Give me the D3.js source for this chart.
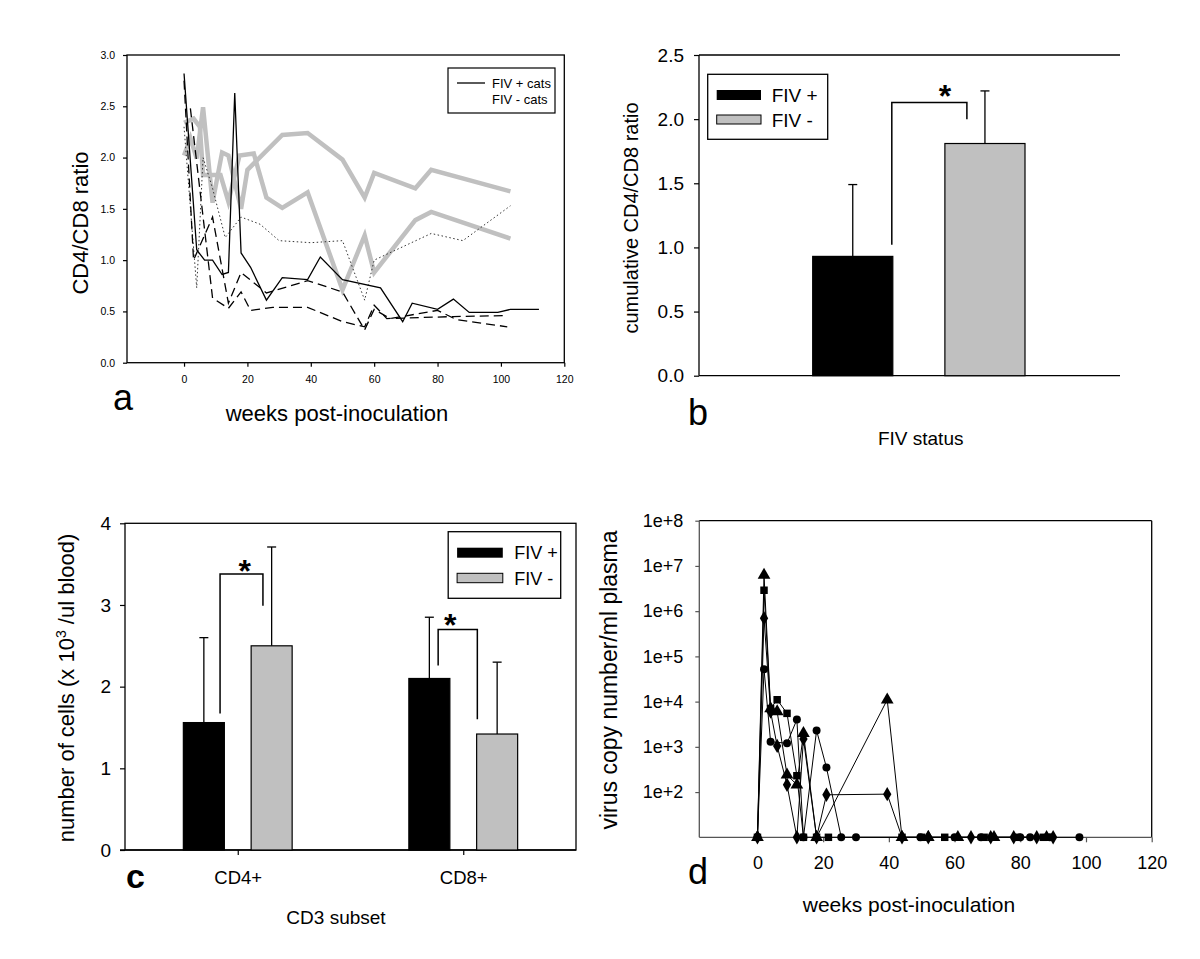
<!DOCTYPE html>
<html>
<head>
<meta charset="utf-8">
<script src="https://cdn.jsdelivr.net/npm/d3@7"></script>
<style>
body { margin: 0; background: #fff; }
svg { display: block; }
</style>
</head>
<body>
<script>
// ---- panel a: CD4/CD8 ratio over time, one line per cat ----
var weekTicks = [0, 20, 40, 60, 80, 100, 120];
var ratioTicks = [0, 0.5, 1, 1.5, 2, 2.5, 3];
var fivPosSolid = [[0,2.82],[4,1.10],[6.5,1.00],[9,1.00],[12,0.86],[14,0.88],[16,2.63],[18,1.07],[21,0.93],[26,0.61],[31,0.83],[39,0.81],[43,1.03],[50,0.81],[62,0.73],[69,0.40],[72,0.58],[80,0.52],[85,0.62],[90,0.49],[99,0.49],[103,0.52],[112,0.52]];
var fivPosDashA = [[2,2.48],[9,0.63],[14,0.53],[18,0.69],[21,0.51],[28,0.54],[39,0.54],[50,0.40],[57,0.35],[60,0.56],[64,0.43],[85,0.45],[102,0.46]];
var fivPosDashB = [[0,2.75],[3,1.00],[9,1.42],[14,0.58],[18,0.88],[26,0.68],[39,0.80],[50,0.69],[57,0.32],[60,0.52],[65,0.43],[80,0.51],[86,0.42],[102,0.35]];
var fivNegDotted = [[0,2.30],[4,0.73],[6,2.00],[9,1.70],[13,1.22],[18,1.42],[24,1.35],[30,1.19],[40,1.17],[50,1.19],[57,0.61],[60,1.00],[78,1.26],[88,1.19],[103,1.53]];
var fivNegGreyA = [[0,2.02],[2,2.19],[4,1.99],[6,2.49],[9,1.56],[12,2.05],[14,2.02],[18,1.50],[20,1.88],[31,2.22],[39,2.24],[50,1.98],[57,1.61],[60,1.85],[73,1.70],[78,1.88],[103,1.67]];
var fivNegGreyB = [[0,2.34],[3,2.38],[5,2.30],[6,1.83],[9,1.83],[11.5,1.83],[14,1.57],[17.5,2.02],[22,2.04],[26,1.61],[31,1.51],[39,1.66],[50,0.71],[57,1.24],[60,0.88],[73,1.39],[78,1.47],[103,1.21]];

// ---- panel b: cumulative ratio ----
var statusGroups = ["FIV +", "FIV -"];
var cumRatioMean = [0.93, 1.81];
var cumRatioSd = [0.56, 0.41];
var cumRatioTicks = [0, 0.5, 1, 1.5, 2, 2.5];

// ---- panel c: cell counts ----
var cd3Subsets = ["CD4+", "CD8+"];
var cellsFivPos = [1.56, 2.10];
var cellsFivPosSd = [1.04, 0.75];
var cellsFivNeg = [2.50, 1.42];
var cellsFivNegSd = [1.21, 0.88];
var cellTicks = [0, 1, 2, 3, 4];

// ---- panel d: viral load (10 = below detection, drawn on the axis) ----
var copyTicks = [1e2, 1e3, 1e4, 1e5, 1e6, 1e7, 1e8];
var loadTriangle = [[0,10],[2,6.3e6],[4,7e3],[6,6e3],[9,240],[12,145],[14,2000],[18,10],[39.5,1.1e4],[44,10],[52,10],[61,10],[72,10],[88,10]];
var loadSquare = [[0,10],[2,2.9e6],[4,7e3],[6,1.1e4],[9,5.5e3],[12,230],[14,10],[18,10],[21.6,10],[44,10],[50,10],[57,10],[69,10],[79,10],[87,10]];
var loadDiamond = [[0,10],[2,7e5],[4,6e3],[6,1050],[9,145],[12,10],[14,1500],[18,10],[21,87],[39.5,90],[44,10],[52,10],[65,10],[71,10],[78,10],[85,10],[90,10]];
var loadCircle = [[0,10],[2,5.2e4],[4,1300],[9,1200],[12,4000],[14,10],[18,2300],[21,350],[25.5,10],[30,10],[49.6,10],[60,10],[68,10],[80,10],[83,10],[89,10],[98,10]];

var GREY = "#c0c0c0";

var svg = d3.select("body").append("svg")
    .attr("width", 1200)
    .attr("height", 959)
    .attr("font-family", "'Liberation Sans', Arial, sans-serif");

function styleAxis(g, size, color){
    g.attr("font-family", null);
    g.select(".domain").remove();
    g.selectAll(".tick line").attr("stroke", color || "#000").attr("stroke-width", 1.2);
    g.selectAll("text").attr("font-size", size).attr("fill", "#000");
}

function seg(x1, y1, x2, y2, w, c){
    return svg.append("line")
        .attr("x1", x1).attr("y1", y1).attr("x2", x2).attr("y2", y2)
        .attr("stroke", c || "#000").attr("stroke-width", w || 1.3);
}

function label(x, y, txt, size, anchor){
    return svg.append("text")
        .attr("x", x).attr("y", y)
        .attr("font-size", size)
        .attr("text-anchor", anchor || "middle")
        .text(txt);
}

function vLabel(x, y, txt, size){
    return svg.append("text")
        .attr("transform", "translate(" + x + "," + y + ") rotate(-90)")
        .attr("font-size", size)
        .attr("text-anchor", "middle")
        .text(txt);
}

function bracket(xl, yl, xr, yr, ytop){
    svg.append("path")
        .attr("d", "M" + xl + "," + yl + "V" + ytop + "H" + xr + "V" + yr)
        .attr("fill", "none").attr("stroke", "#000").attr("stroke-width", 1.5);
}

function star(x, y){
    label(x, y, "*", 32).attr("font-weight", "bold");
}

// ================= panel a =================
var ax = d3.scaleLinear().domain([-18, 120]).range([127, 564.3]);
var ay = d3.scaleLinear().domain([0, 3]).range([362.7, 55]);

svg.append("rect")
    .attr("x", ax(-18)).attr("y", ay(3))
    .attr("width", ax(120) - ax(-18)).attr("height", ay(0) - ay(3))
    .attr("fill", "none").attr("stroke", "#000").attr("stroke-width", 1.3);

svg.append("g").attr("transform", "translate(0," + ay(0) + ")")
    .call(d3.axisBottom(ax).tickValues(weekTicks).tickSize(4).tickPadding(9))
    .call(styleAxis, 10.5);
svg.append("g").attr("transform", "translate(" + ax(-18) + ",0)")
    .call(d3.axisLeft(ay).tickValues(ratioTicks).tickFormat(d3.format(".1f")).tickSize(4).tickPadding(8))
    .call(styleAxis, 10.5);

var aLine = d3.line().x(function(d){ return ax(d[0]); }).y(function(d){ return ay(d[1]); });
var aSeries = [
    {data: fivNegGreyA, stroke: GREY, width: 4.5, dash: null},
    {data: fivNegGreyB, stroke: GREY, width: 4.5, dash: null},
    {data: fivNegDotted, stroke: "#333", width: 1, dash: "1.5,2.5"},
    {data: fivPosDashA, stroke: "#000", width: 1.3, dash: "9,5"},
    {data: fivPosDashB, stroke: "#000", width: 1.3, dash: "9,5"},
    {data: fivPosSolid, stroke: "#000", width: 1.3, dash: null}
];
svg.append("g").selectAll("path")
    .data(aSeries)
    .enter().append("path")
        .attr("d", function(s){ return aLine(s.data); })
        .attr("fill", "none")
        .attr("stroke", function(s){ return s.stroke; })
        .attr("stroke-width", function(s){ return s.width; })
        .attr("stroke-dasharray", function(s){ return s.dash; })
        .attr("stroke-linejoin", "miter");

// legend a
svg.append("rect").attr("x", 448).attr("y", 68).attr("width", 107).attr("height", 45)
    .attr("fill", "#fff").attr("stroke", "#000").attr("stroke-width", 1.2);
seg(457, 83, 485, 83, 1.3);
label(492, 87.5, "FIV + cats", 13, "start");
label(492, 103.5, "FIV - cats", 13, "start");

vLabel(88, 223, "CD4/CD8 ratio", 22);
label(337, 421, "weeks post-inoculation", 22);
label(113, 410, "a", 36, "start");

// ================= panel b =================
var by = d3.scaleLinear().domain([0, 2.5]).range([375.7, 55]);
var bx = d3.scaleBand().domain(statusGroups).range([812.7, 1025]).paddingInner(0.394);
var bRight = 1120;

seg(699, by(2.5), bRight, by(2.5));
seg(699, by(0), bRight, by(0));
seg(699, by(0), 699, by(2.5));
svg.append("g").attr("transform", "translate(699,0)")
    .call(d3.axisLeft(by).tickValues(cumRatioTicks).tickFormat(d3.format(".1f")).tickSize(5).tickPadding(10))
    .call(styleAxis, 19);

statusGroups.forEach(function(grp, i){
    var x0 = bx(grp), bw = bx.bandwidth(), cx = x0 + bw / 2;
    var top = cumRatioMean[i] + cumRatioSd[i];
    seg(cx, by(cumRatioMean[i]), cx, by(top), 1.3);
    seg(cx - 4.5, by(top), cx + 4.5, by(top), 1.3);
    svg.append("rect")
        .attr("x", x0).attr("y", by(cumRatioMean[i]))
        .attr("width", bw).attr("height", by(0) - by(cumRatioMean[i]))
        .attr("fill", i === 0 ? "#000" : GREY)
        .attr("stroke", "#000").attr("stroke-width", 1.2);
});
bracket(bx("FIV +") + bx.bandwidth() - 1, by(1.02), bx("FIV -") + 22, by(2.0), by(2.13));
star(bx("FIV -"), 107);

svg.append("rect").attr("x", 707.7).attr("y", 74.3).attr("width", 120).attr("height", 65)
    .attr("fill", "#fff").attr("stroke", "#000").attr("stroke-width", 1.3);
svg.append("rect").attr("x", 716.7).attr("y", 90).attr("width", 44.3).attr("height", 10).attr("fill", "#000");
svg.append("rect").attr("x", 716.7).attr("y", 115).attr("width", 44.3).attr("height", 9)
    .attr("fill", GREY).attr("stroke", "#000").attr("stroke-width", 1);
label(771.7, 102, statusGroups[0], 19, "start");
label(771.7, 127, statusGroups[1], 19, "start");

vLabel(638, 218, "cumulative CD4/CD8 ratio", 20);
label(920.7, 445, "FIV status", 19);
label(688, 425, "b", 36, "start");

// ================= panel c =================
var cLeft = 125, cRight = 576;
var cy = d3.scaleLinear().domain([0, 4]).range([850, 523.3]);
var cx = d3.scalePoint().domain(cd3Subsets).range([cLeft, cRight]).padding(0.5);
var sub = d3.scaleBand().domain(statusGroups).range([-54.4, 54.4]).paddingInner(0.395);

svg.append("rect").attr("x", cLeft).attr("y", cy(4)).attr("width", cRight - cLeft).attr("height", cy(0) - cy(4))
    .attr("fill", "none").attr("stroke", "#000").attr("stroke-width", 1.3);
seg(cLeft - 5, cy(0), cRight, cy(0));
svg.append("g").attr("transform", "translate(" + cLeft + ",0)")
    .call(d3.axisLeft(cy).tickValues(cellTicks).tickFormat(d3.format("d")).tickSize(5).tickPadding(9))
    .call(styleAxis, 19);
svg.append("g").attr("transform", "translate(0," + cy(0) + ")")
    .call(d3.axisBottom(cx).tickSize(5).tickPadding(16))
    .call(styleAxis, 18.5);

var cBars = [];
cd3Subsets.forEach(function(s, i){
    cBars.push({subset: s, grp: "FIV +", v: cellsFivPos[i], sd: cellsFivPosSd[i]});
    cBars.push({subset: s, grp: "FIV -", v: cellsFivNeg[i], sd: cellsFivNegSd[i]});
});
cBars.forEach(function(b){
    var x0 = cx(b.subset) + sub(b.grp), bw = sub.bandwidth(), mid = x0 + bw / 2;
    seg(mid, cy(b.v), mid, cy(b.v + b.sd), 1.3);
    seg(mid - 4.5, cy(b.v + b.sd), mid + 4.5, cy(b.v + b.sd), 1.3);
    svg.append("rect")
        .attr("x", x0).attr("y", cy(b.v))
        .attr("width", bw).attr("height", cy(0) - cy(b.v))
        .attr("fill", b.grp === "FIV +" ? "#000" : GREY)
        .attr("stroke", "#000").attr("stroke-width", 1.2);
});
var c4 = cx("CD4+"), c8 = cx("CD8+");
bracket(c4 + sub("FIV +") + sub.bandwidth() - 4.3, cy(1.67), c4 + sub("FIV -") + 11.8, cy(2.99), cy(3.38));
star(c4 + 7, 582);
bracket(c8 + sub("FIV +") + 29.3, cy(2.26), c8 + sub("FIV -") + 0.7, cy(1.6), cy(2.70));
star(c8 - 13, 636);

svg.append("rect").attr("x", 448.2).attr("y", 531.7).attr("width", 112.5).attr("height", 66.6)
    .attr("fill", "#fff").attr("stroke", "#000").attr("stroke-width", 1.3);
svg.append("rect").attr("x", 457.1).attr("y", 547.7).attr("width", 45.7).attr("height", 10).attr("fill", "#000");
svg.append("rect").attr("x", 457.1).attr("y", 573.3).attr("width", 45.7).attr("height", 9.4)
    .attr("fill", GREY).attr("stroke", "#000").attr("stroke-width", 1);
label(514.3, 558.5, statusGroups[0], 18, "start");
label(514.3, 584.5, statusGroups[1], 18, "start");

var cLab = vLabel(74, 688, "", 22);
cLab.append("tspan").text("number of cells (x 10");
cLab.append("tspan").attr("font-size", 14).attr("dy", -8).text("3");
cLab.append("tspan").attr("dy", 8).text(" /ul blood)");
label(336, 924, "CD3 subset", 19);
label(126, 888, "c", 34, "start").attr("font-weight", "bold");

// ================= panel d =================
var dx = d3.scaleLinear().domain([-17.7, 120]).range([699.3, 1151.7]);
var dy = d3.scaleLog().domain([10, 1e8]).range([837.3, 520.7]);
var AXG = "#555";

seg(699.3, dy(1e8), 1151.7, dy(1e8), 1.3);
seg(1151.7, dy(1e8), 1151.7, dy(10), 1.3);
seg(699.3, dy(10), 1151.7, dy(10), 1.3, AXG);
seg(699.3, dy(10), 699.3, dy(1e8), 1.3, AXG);
svg.append("g").attr("transform", "translate(699.3,0)")
    .call(d3.axisLeft(dy).tickValues(copyTicks).tickFormat(function(d){ return "1e+" + Math.round(Math.log10(d)); }).tickSize(4).tickPadding(12))
    .call(styleAxis, 18, AXG);
svg.append("g").attr("transform", "translate(0," + dy(10) + ")")
    .call(d3.axisBottom(dx).tickValues(weekTicks).tickSize(5).tickPadding(14))
    .call(styleAxis, 18, AXG);

var dLine = d3.line().x(function(d){ return dx(d[0]); }).y(function(d){ return dy(d[1]); });
var dSeries = [
    {data: loadTriangle, type: d3.symbolTriangle, size: 70},
    {data: loadSquare, type: d3.symbolSquare, size: 56},
    {data: loadDiamond, type: d3.symbolDiamond, size: 60},
    {data: loadCircle, type: d3.symbolCircle, size: 50}
];
dSeries.forEach(function(s){
    svg.append("path").attr("d", dLine(s.data))
        .attr("fill", "none").attr("stroke", "#000").attr("stroke-width", 1);
});
dSeries.forEach(function(s){
    svg.append("g").selectAll("path")
        .data(s.data)
        .enter().append("path")
            .attr("transform", function(d){ return "translate(" + dx(d[0]) + "," + dy(d[1]) + ")"; })
            .attr("d", d3.symbol().type(s.type).size(s.size))
            .attr("fill", "#000");
});

vLabel(617, 680, "virus copy number/ml plasma", 23);
label(909, 912, "weeks post-inoculation", 21);
label(688, 884, "d", 36, "start");
</script>
</body>
</html>
